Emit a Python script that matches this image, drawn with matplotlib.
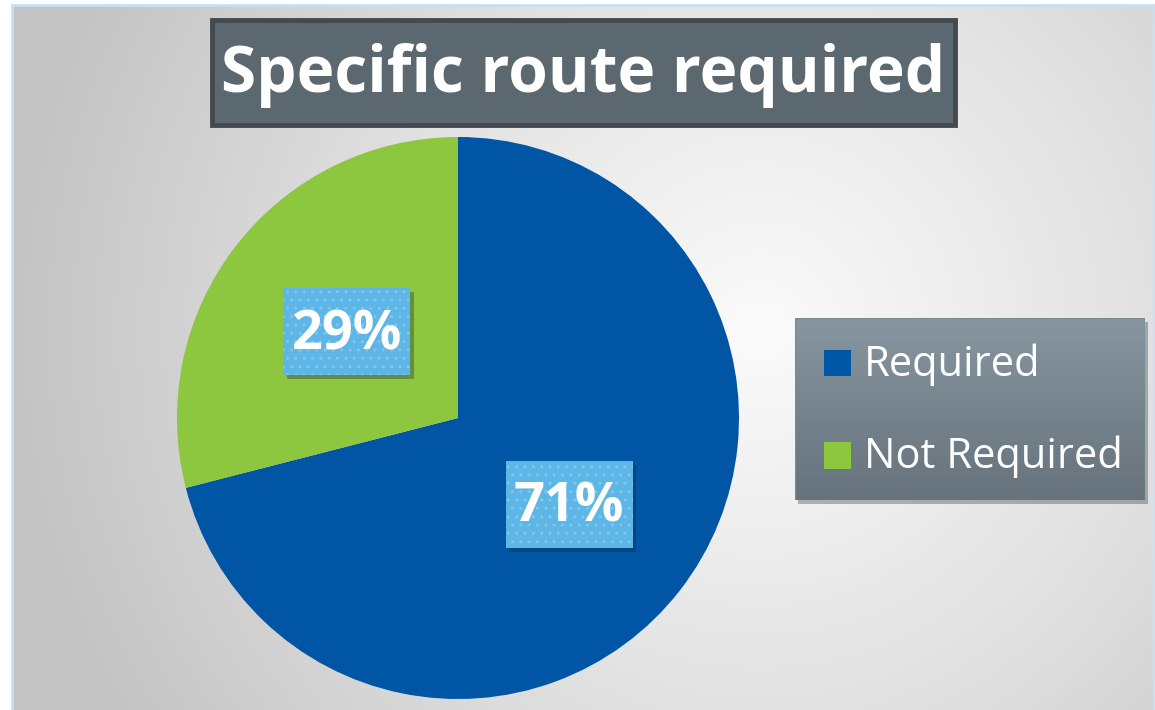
import numpy as np
import matplotlib
matplotlib.use("Agg")
import matplotlib.pyplot as plt
from matplotlib.patches import Rectangle
import matplotlib.transforms as mtransforms
from matplotlib.colors import LinearSegmentedColormap

# ---- data ----
title = "Specific route required"
categories = ["Required", "Not Required"]
values = [71, 29]
colors = ["#0055a5", "#8dc63f"]

W, H = 1155, 710
DPI = 100
plt.rcParams['font.family'] = ['Open Sans', 'DejaVu Sans']
fig = plt.figure(figsize=(W / DPI, H / DPI), dpi=DPI)
fig.patch.set_facecolor("white")


def fbox(x0, y0, x1, y1):
    """pixel box (top-left origin) -> figure fraction [l, b, w, h]"""
    return [x0 / W, 1 - y1 / H, (x1 - x0) / W, (y1 - y0) / H]


# ---- background with radial gradient ----
bx0, by0, bx1, by1 = 13, 6, 1153, 712
bg = fig.add_axes(fbox(bx0, by0, bx1, by1))
bg.set_zorder(0)
yy, xx = np.mgrid[by0:by1, bx0:bx1]
cx, cy = 760, 330
d = np.sqrt((xx - cx) ** 2 + (yy - cy) ** 2)
d = np.clip(d / 760.0, 0, 1)
cmap_bg = LinearSegmentedColormap.from_list("bg", ["#fbfbfb", "#e2e2e2", "#c3c3c3"])
bg.imshow(d, cmap=cmap_bg, aspect="auto", extent=[0, 1, 0, 1], origin="upper", vmin=0, vmax=1)
bg.set_axis_off()

# light blue border
border = Rectangle((12 / W, 0 - 0.01), (1154 - 12) / W, (H - 5) / H + 0.01,
                   transform=fig.transFigure, fill=False, edgecolor="#c6e0f2",
                   linewidth=2.0, zorder=0.5)
fig.add_artist(border)

# ---- title ----
tb = fbox(212, 20, 955, 125)
fig.add_artist(Rectangle((tb[0], tb[1]), tb[2], tb[3], transform=fig.transFigure,
                         facecolor="#5b6870", edgecolor="#424a50", linewidth=3.5, zorder=2))
fig.text((212 + 955) / 2 / W, 1 - 76 / H, title, ha="center", va="center",
         fontsize=46, fontweight="bold", color="white", zorder=3)

# ---- pie ----
pcx, pcy, r = 458, 418, 281
ax = fig.add_axes(fbox(pcx - r, pcy - r, pcx + r, pcy + r))
ax.set_zorder(1)
wedges, texts, autotexts = ax.pie(values, colors=colors, startangle=90, counterclock=False,
                                  radius=1.0, autopct=lambda p: f"{p:.0f}%", pctdistance=0.5,
                                  wedgeprops=dict(linewidth=0),
                                  textprops=dict(color="white", fontsize=39, fontweight="bold"))
ax.set_xlim(-1, 1)
ax.set_ylim(-1, 1)
ax.set_aspect("equal")
ax.set_axis_off()

# label boxes
bw, bh = 1.27, 0.87  # inches
for t in autotexts:
    x, y = t.get_position()
    off = mtransforms.ScaledTranslation(x, y, ax.transData)
    trans = fig.dpi_scale_trans + off
    shadow = Rectangle((-bw / 2 + 0.035, -bh / 2 - 0.04), bw, bh, transform=trans,
                       facecolor="#1a2a3a", alpha=0.35, linewidth=0, zorder=3)
    box = Rectangle((-bw / 2, -bh / 2), bw, bh, transform=trans,
                    facecolor="#5db6e6", edgecolor="#7ec6ee", hatch="..",
                    linewidth=0, zorder=4)
    ax.add_patch(shadow)
    ax.add_patch(box)
    shadow.set_clip_on(False)
    box.set_clip_on(False)
    t.set_zorder(5)
    t.set_y(y - 0.012)

# ---- legend ----
lx0, ly0, lx1, ly1 = 795, 318, 1145, 500
shax = fig.add_axes(fbox(lx0 + 3, ly0 + 4, lx1 + 3, ly1 + 4))
shax.set_zorder(1.5)
shax.add_patch(Rectangle((0, 0), 1, 1, transform=shax.transAxes,
                         facecolor="#303840", alpha=0.35, linewidth=0))
shax.set_axis_off()

lax = fig.add_axes(fbox(lx0, ly0, lx1, ly1))
lax.set_zorder(2)
grad = np.linspace(0, 1, 200).reshape(-1, 1)
cmap_lg = LinearSegmentedColormap.from_list("lg", ["#8796a0", "#66737c"])
lax.imshow(grad, cmap=cmap_lg, aspect="auto", extent=[0, 1, 0, 1], origin="upper")
lax.add_patch(Rectangle((0, 0), 1, 1, transform=lax.transAxes, fill=False,
                        edgecolor="#7d8a93", linewidth=1))
lax.set_xlim(0, 1)
lax.set_ylim(0, 1)
lax.set_axis_off()

entry_y = [363, 455]
for lab, col, ey in zip(categories, colors, entry_y):
    sq = fbox(824, ey - 13.5, 851, ey + 13.5)
    fig.add_artist(Rectangle((sq[0], sq[1]), sq[2], sq[3], transform=fig.transFigure,
                             facecolor=col, linewidth=0, zorder=4))
    fig.text(864 / W, 1 - (ey + 2) / H, lab, ha="left", va="center", fontsize=30,
             color="white", zorder=4)

fig.savefig("out.png", dpi=DPI)
